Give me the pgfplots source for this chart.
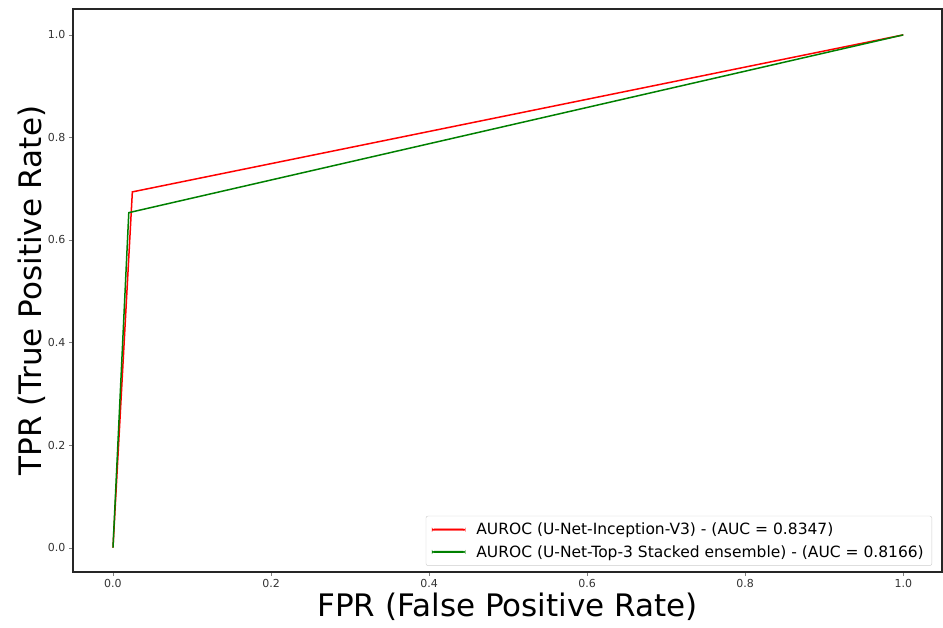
\documentclass[border=0pt]{standalone}
\usepackage{fontspec}
\setmainfont{DejaVu Sans}
\usepackage{pgfplots}
\pgfplotsset{compat=1.18}
\definecolor{mplgreen}{HTML}{008000}
\begin{document}
\begin{tikzpicture}
\begin{axis}[
  scale only axis,
  width=869pt, height=563pt,
  xmin=-0.0506, xmax=1.049,
  ymin=-0.0475, ymax=1.0505,
  xtick={0,0.2,0.4,0.6,0.8,1.0},
  ytick={0,0.2,0.4,0.6,0.8,1.0},
  xticklabels={0.0,0.2,0.4,0.6,0.8,1.0},
  yticklabels={0.0,0.2,0.4,0.6,0.8,1.0},
  tick align=outside,
  tick pos=left,
  major tick length=4pt,
  tick label style={font=\fontsize{11}{13}\selectfont, text=black!80},
  /pgf/number format/assume math mode=true,
  axis line style={line width=1.2pt, black!85},
  xlabel={FPR (False Positive Rate)},
  ylabel={TPR (True Positive Rate)},
  label style={font=\fontsize{31}{36}\selectfont},
  xlabel style={yshift=2pt},
  ylabel style={yshift=-4pt},
  legend cell align=left,
  legend style={font=\fontsize{15.5}{20}\selectfont, draw=black!20, rounded corners=2pt, at={(0.9885,0.011)}, anchor=south east, inner xsep=6pt, inner ysep=5pt, row sep=5pt},
  legend image code/.code={\fill[#1] (0pt,-0.8pt) rectangle (33pt,0.8pt); \path (42pt,0pt);},
]
\addlegendimage{red}
\addlegendentry{AUROC (U-Net-Inception-V3) - (AUC = 0.8347)}
\addlegendimage{mplgreen}
\addlegendentry{AUROC (U-Net-Top-3 Stacked ensemble) - (AUC = 0.8166)}
\addplot[red, line width=1.5pt, forget plot] coordinates {(0,0) (0.0245,0.6938) (1,1)};
\addplot[mplgreen, line width=1.5pt, forget plot] coordinates {(0,0) (0.02,0.6533) (1,1)};
\end{axis}
\path ([xshift=-73pt,yshift=9pt]current axis.north west) rectangle ([xshift=1pt,yshift=-56pt]current axis.south east);
\end{tikzpicture}
\end{document}
